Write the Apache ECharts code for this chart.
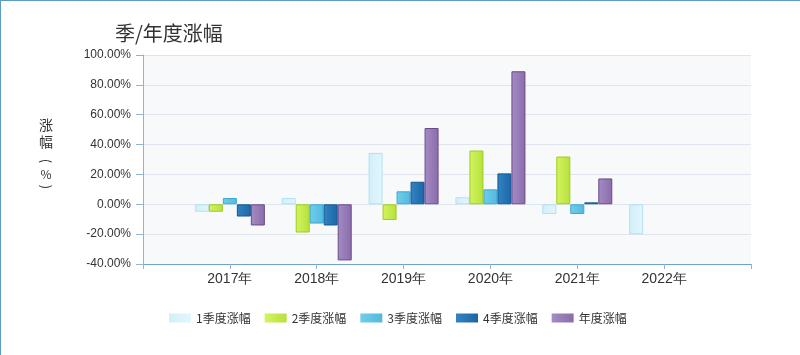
<!DOCTYPE html>
<html><head><meta charset="utf-8">
<script src="https://cdn.jsdelivr.net/npm/echarts@6/dist/echarts.min.js"></script>
<style>
html,body{margin:0;padding:0;background:#fff;}
#c{width:800px;height:355px;box-sizing:border-box;border-top:1px solid #5b9bc6;border-left:1px solid #5b9bc6;}
</style></head>
<body><div id="c"></div>
<script>
var categories = ['', '2017年', '2018年', '2019年', '2020年', '2021年', '2022年', ''];
var seriesNames = ['1季度涨幅', '2季度涨幅', '3季度涨幅', '4季度涨幅', '年度涨幅'];
var q1 = [null, -5.0, 4.2, 34.4, 4.7, -6.5, -20.0, null];
var q2 = [null, -5.0, -18.9, -10.5, 36.0, 32.0, null, null];
var q3 = [null, 4.2, -12.9, 8.7, 10.0, -6.5, null, null];
var q4 = [null, -8.2, -14.2, 15.1, 20.7, 1.3, null, null];
var yearly = [null, -14.2, -37.6, 51.1, 89.1, 17.3, null, null];
var yTicks = [-40, -20, 0, 20, 40, 60, 80, 100];

var palette = [
  {a:'#d0effa', b:'#e4f6fc', border:'#b4e0f2'},
  {a:'#d4f55e', b:'#b6e03c', border:'#9ccc22'},
  {a:'#72cdea', b:'#52b9dd', border:'#3ba8d0'},
  {a:'#3383c2', b:'#1d66a6', border:'#155893'},
  {a:'#a48cc4', b:'#8a6cab', border:'#6a4a8c'}
];
function grad(p){
  return new echarts.graphic.LinearGradient(0,0,1,0,[{offset:0,color:p.a},{offset:1,color:p.b}]);
}
var dataSets = [q1, q2, q3, q4, yearly];
var series = dataSets.map(function(d,i){
  return {
    name: seriesNames[i], type:'bar', data:d, barWidth:14, barGap:'0%',
    itemStyle:{color:grad(palette[i]), borderColor:palette[i].border, borderWidth:1},
    emphasis:{disabled:true}
  };
});

var ff = '"Noto Sans CJK SC"';
var chart = echarts.init(document.getElementById('c'), null, {renderer:'canvas'});
chart.setOption({
  animation:false,
  backgroundColor:'#fff',
  title:{text:'季/年度涨幅', left:114, top:22, padding:0, textStyle:{fontSize:20, fontWeight:'normal', color:'#333', fontFamily:'Noto Sans CJK SC'}},
  graphic:[
    {type:'text', x:45, y:124, style:{text:'涨', font:'14px '+ff, fill:'#333', align:'center', verticalAlign:'middle'}},
    {type:'text', x:45, y:141, style:{text:'幅', font:'14px '+ff, fill:'#333', align:'center', verticalAlign:'middle'}},
    {type:'text', x:45, y:160, rotation:-Math.PI/2, style:{text:'(', font:'13px '+ff, fill:'#333', align:'center', verticalAlign:'middle'}},
    {type:'text', x:45, y:173, style:{text:'%', font:'12px '+ff, fill:'#333', align:'center', verticalAlign:'middle'}},
    {type:'text', x:45, y:186, rotation:-Math.PI/2, style:{text:')', font:'13px '+ff, fill:'#333', align:'center', verticalAlign:'middle'}}
  ],
  legend:{
    left:168, top:311, padding:0, itemWidth:22, itemHeight:9, itemGap:14,
    icon:'rect',
    itemStyle:{borderWidth:0},
    textStyle:{fontSize:12, color:'#333', fontFamily:'Noto Sans CJK SC'},
    data:seriesNames
  },
  grid:{left:142, right:49, top:54, bottom:91, show:true, backgroundColor:'#f8f9fb', borderWidth:0},
  xAxis:{
    type:'category', data:categories, boundaryGap:false,
    axisLine:{onZero:false, lineStyle:{color:'#6fa2cd', width:1}},
    axisTick:{show:true, length:5, lineStyle:{color:'#8fb4d6'}},
    axisLabel:{fontSize:14, color:'#333', margin:8, fontFamily:'Liberation Sans'},
    splitLine:{show:false}
  },
  yAxis:{
    type:'value', min:yTicks[0], max:yTicks[yTicks.length-1], interval:20,
    axisLine:{show:true, lineStyle:{color:'#8fb4d6'}},
    axisTick:{show:true, length:7, lineStyle:{color:'#8fb4d6'}},
    axisLabel:{fontSize:12, color:'#333', margin:12, fontFamily:'Liberation Sans', formatter:function(v){return v.toFixed(2)+'%';}},
    splitLine:{lineStyle:{color:'#dfe5ee', width:1}}
  },
  series:series
});
</script>
</body></html>
